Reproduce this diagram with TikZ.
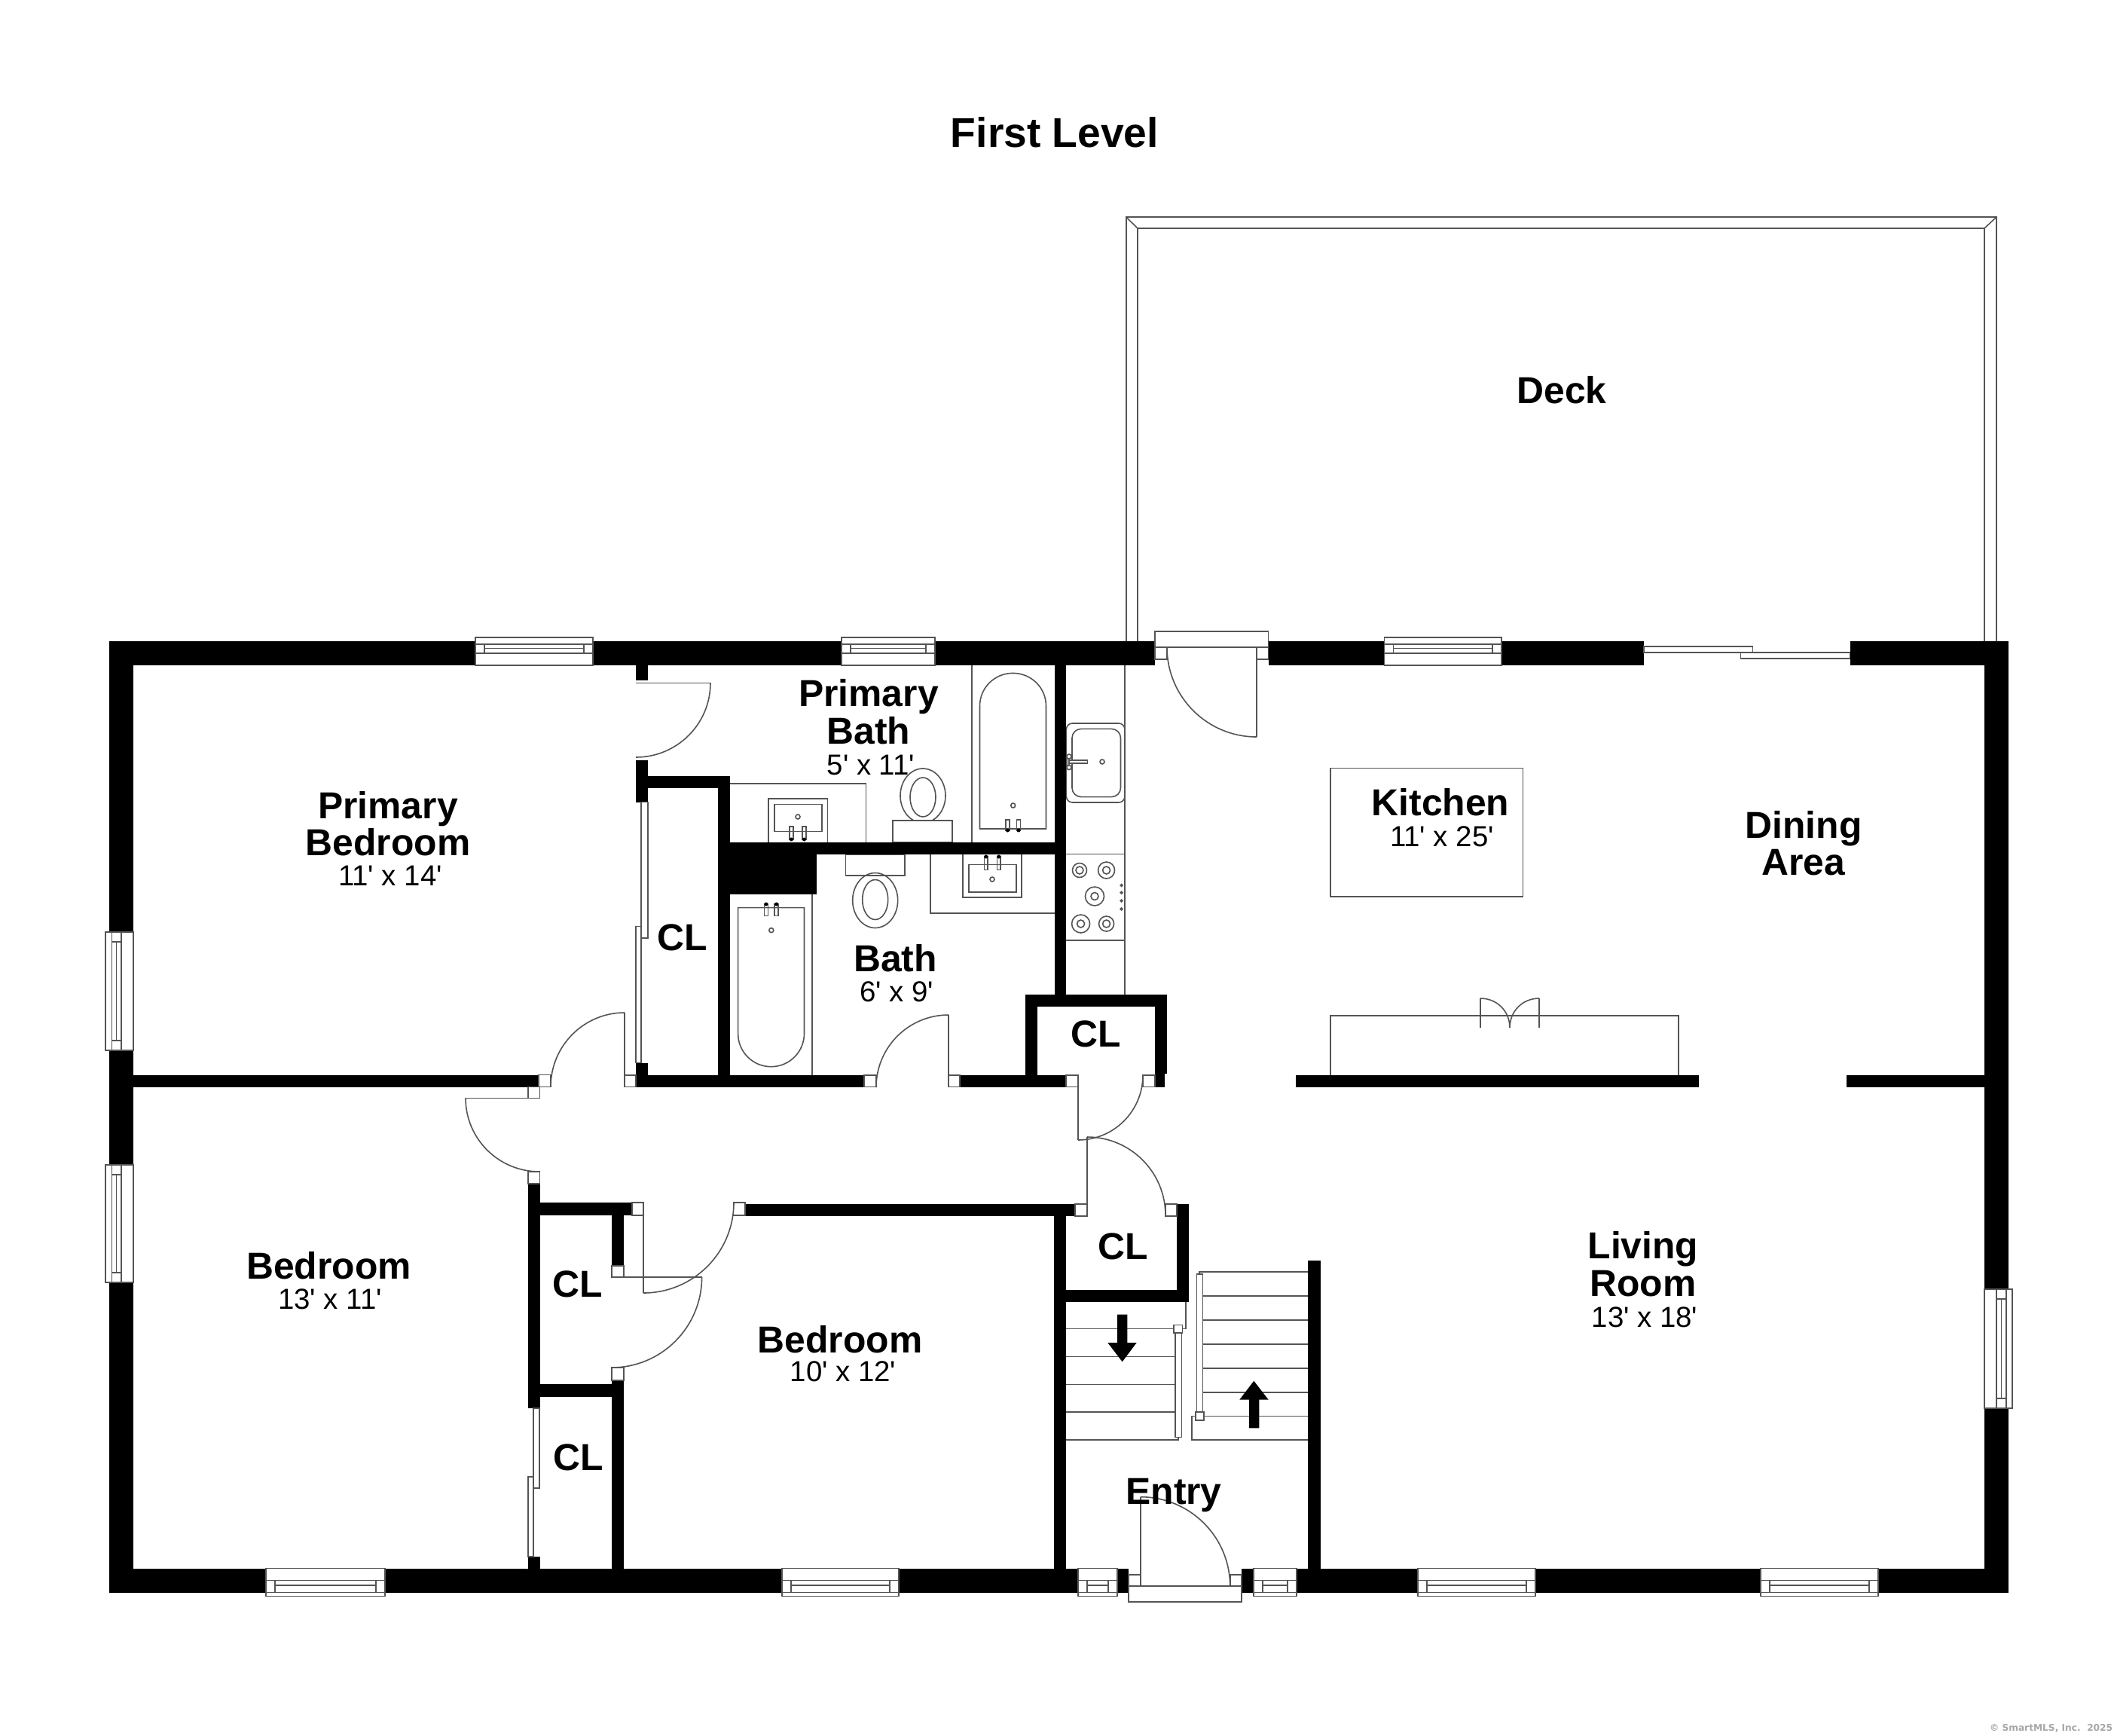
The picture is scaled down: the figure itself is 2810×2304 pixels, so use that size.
\documentclass[tikz,border=0pt]{standalone}
\usepackage{fontspec}
\usetikzlibrary{calc}
\setmainfont{Liberation Sans}[Ligatures=TeXOff]
\newfontfamily\crfont{DejaVu Sans}
\definecolor{lncol}{gray}{0.33}
\tikzset{
 ln/.style={draw=lncol,line width=0.4pt},
 roomlab/.style={anchor=base,inner sep=0pt,text=black,font=\fontsize{12.45}{14}\selectfont\bfseries},
 dimlab/.style={anchor=base,inner sep=0pt,text=black,font=\fontsize{9.6}{11}\selectfont},
 titlelab/.style={anchor=base,inner sep=0pt,text=black,font=\fontsize{13.8}{16}\selectfont\bfseries},
 crlab/.style={anchor=base east,inner sep=0pt,text=black!35,font=\fontsize{3.05}{4}\selectfont\crfont\bfseries}
}
\newcommand\wl[4]{\fill[black] (#1,#2) rectangle (#3,#4);}
\newcommand\op[4]{\fill[white] (#1,#2) rectangle (#3,#4);}
\newcommand\jb[4]{\filldraw[ln,fill=white] (#1,#2) rectangle (#3,#4);}
\newcommand\qarc[6]{\draw[ln] (#1,#2) .. controls ($(#1,#2)+0.5523*(#3,#4)-0.5523*(#5,#6)$) and ($(#3,#4)+0.5523*(#1,#2)-0.5523*(#5,#6)$) .. (#3,#4);}
% horizontal window: x1 x2 y0 s a
\newcommand\winH[5]{%
 \filldraw[ln,fill=white] (#1,{#3-5*#4}) rectangle (#2,{#3+32*#4});
 \draw[ln] (#1,{#3+#5*#4}) -- (#2,{#3+#5*#4});
 \draw[ln] (#1,{#3+16*#4}) -- (#2,{#3+16*#4});
 \draw[ln] ({#1+12},{#3+#5*#4}) rectangle ({#2-12},{#3+16*#4});
 \draw[ln] ({#1+12},{#3+9.5*#4}) -- ({#2-12},{#3+9.5*#4});}
% vertical window: y1 y2 x0 s a
\newcommand\winV[5]{%
 \filldraw[ln,fill=white] ({#3-5*#4},#1) rectangle ({#3+32*#4},#2);
 \draw[ln] ({#3+#5*#4},#1) -- ({#3+#5*#4},#2);
 \draw[ln] ({#3+16*#4},#1) -- ({#3+16*#4},#2);
 \draw[ln] ({#3+#5*#4},{#1+13}) rectangle ({#3+16*#4},{#2-13});
 \draw[ln] ({#3+9.5*#4},{#1+13}) -- ({#3+9.5*#4},{#2-13});}
% tap: x1 x2 y1 y2 ydot
\newcommand\tap[5]{\draw[ln] (#1,#3) rectangle (#2,#4); \fill[black] ({(#1+#2)/2},#5) circle[radius=2.5];}
\newcommand\drn[2]{\draw[ln] (#1,#2) circle[radius=3];}
\newcommand\burn[3]{\draw[ln] (#1,#2) circle[radius=#3]; \draw[ln] (#1,#2) circle[radius=5];}
\begin{document}
\begin{tikzpicture}[x=0.25pt,y=-0.25pt]
\useasboundingbox (0,0) rectangle (2810,2304);
\fill[white] (0,0) rectangle (2810,2304);
% deck
\draw[ln] (1494.7,851) -- (1494.7,288) -- (2650,288) -- (2650,851);
\draw[ln] (1510,851) -- (1510,303) -- (2634,303) -- (2634,851);
\draw[ln] (1494.7,288) -- (1510,303);
\draw[ln] (2650,288) -- (2634,303);
% kitchen counter and appliances
\draw[ln] (1493,882) -- (1493,1320);
\draw[ln,rounded corners=2] (1415.4,960) rectangle (1493,1065);
\draw[ln,rounded corners=3] (1423,967.4) rectangle (1487.5,1057.6);
\draw[ln,fill=white] (1419,1009) rectangle (1443.6,1013);
\draw[ln] (1416.5,1003) rectangle (1419,1019);
\draw[ln,fill=white] (1419,1004) circle[radius=3];
\draw[ln,fill=white] (1419,1018.6) circle[radius=3];
\drn{1463}{1011}
\draw[ln] (1415,1133.5) -- (1493,1133.5);
\draw[ln] (1415,1248) -- (1493,1248);
\burn{1433}{1155}{9.5}
\burn{1468.6}{1155}{11}
\burn{1453}{1189.5}{12.5}
\burn{1434.6}{1226}{12}
\burn{1468.6}{1226}{10}
\draw[ln] (1488.6,1175) circle[radius=1.4];
\draw[ln] (1488.6,1184.7) circle[radius=1.4];
\draw[ln] (1488.6,1195.5) circle[radius=1.4];
\draw[ln] (1488.6,1206.4) circle[radius=1.4];
% island and bar
\draw[ln] (1766,1019.5) rectangle (2021.6,1190);
\draw[ln] (1766,1428) -- (1766,1348) -- (2228,1348) -- (2228,1428);
\draw[ln] (1965,1364) -- (1965,1325);
\draw[ln] (2043,1364) -- (2043,1325);
\draw[ln] (1965,1325) .. controls (1987,1325) and (2004,1342) .. (2004,1364);
\draw[ln] (2043,1325) .. controls (2021,1325) and (2004,1342) .. (2004,1364);
% primary bath fixtures
\draw[ln] (1290,882) -- (1290,1118);
\draw[ln] (1300.5,1100) -- (1300.5,937) .. controls (1300.5,912.7) and (1320.2,893.4) .. (1344.5,893.4) .. controls (1368.8,893.4) and (1388.5,912.7) .. (1388.5,937) -- (1388.5,1100) -- cycle;
\tap{1335}{1340}{1088}{1102}{1102}
\tap{1349.6}{1354.5}{1088}{1102}{1102}
\drn{1344.7}{1069}
\draw[ln] (969,1039.7) -- (1149.6,1039.7) -- (1149.6,1118);
\draw[ln] (1019.7,1118) -- (1019.7,1060) -- (1098.3,1060) -- (1098.3,1118);
\draw[ln] (1027.8,1067.4) rectangle (1090.7,1103.3);
\drn{1059}{1084}
\tap{1048}{1052.8}{1097}{1114}{1114}
\tap{1065}{1070}{1097}{1114}{1114}
\draw[ln] (1225,1056) ellipse[x radius=30,y radius=36];
\draw[ln] (1225,1058) ellipse[x radius=17,y radius=26];
\filldraw[ln,fill=white] (1185,1089) rectangle (1264,1118);
% bath fixtures
\filldraw[ln,fill=white] (1122.4,1134) rectangle (1201,1162);
\draw[ln] (1161.7,1195) ellipse[x radius=30,y radius=36.5];
\draw[ln] (1161.7,1194) ellipse[x radius=17,y radius=26.5];
\draw[ln] (1235,1134) -- (1235,1211.7) -- (1399.6,1211.7);
\draw[ln] (1278,1134) -- (1278,1191) -- (1356,1191) -- (1356,1134);
\draw[ln] (1285.8,1147.6) rectangle (1348.8,1184);
\drn{1317}{1167}
\tap{1306.3}{1311.2}{1137}{1154.4}{1137}
\tap{1323.3}{1328.2}{1137}{1154.4}{1137}
\draw[ln] (1078,1187) -- (1078,1427);
\draw[ln] (979.6,1204.6) -- (979.6,1371.7) .. controls (979.6,1396) and (999.2,1415.7) .. (1023.5,1415.7) .. controls (1047.8,1415.7) and (1067.5,1396) .. (1067.5,1371.7) -- (1067.5,1204.6) -- cycle;
\tap{1014.4}{1019.3}{1200}{1215.6}{1200}
\tap{1028.2}{1033}{1200}{1215.6}{1200}
\drn{1023.8}{1234.6}
% stairs
\foreach \yy in {1763.3,1800.3,1837.3,1874} {\draw[ln] (1415,\yy) -- (1560,\yy);}
\draw[ln] (1415,1911) -- (1564,1911) -- (1564,1907);
\draw[ln] (1574,1727) -- (1574,1763.3) -- (1569,1763.3);
\draw[ln] (1592,1691) -- (1592,1688) -- (1736,1688);
\foreach \yy in {1720,1751.7,1783.7,1815.7,1847.7} {\draw[ln] (1596.3,\yy) -- (1736,\yy);}
\draw[ln] (1736,1879.3) -- (1581.7,1879.3) -- (1581.7,1911) -- (1736,1911);
\filldraw[ln,fill=white] (1560,1766.7) rectangle (1568.3,1907.3);
\filldraw[ln,fill=white] (1558,1758.3) rectangle (1569.3,1768.7);
\filldraw[ln,fill=white] (1588.3,1691) rectangle (1596.3,1875);
\filldraw[ln,fill=white] (1586.7,1874) rectangle (1597.7,1884.7);
\fill[black] (1483,1744.7) -- (1496.3,1744.7) -- (1496.3,1782) -- (1508.7,1782) -- (1489.7,1807.3) -- (1470.3,1782) -- (1483,1782) -- cycle;
\fill[black] (1658,1895.3) -- (1671.3,1895.3) -- (1671.3,1857.7) -- (1683.7,1857.7) -- (1664.3,1832.7) -- (1645.3,1857.7) -- (1658,1857.7) -- cycle;
% outer walls
\wl{145}{851}{2666}{882.5}
\wl{145}{851}{177}{2114}
\wl{2634}{851}{2666}{2114}
\wl{145}{2082}{2666}{2114}
% partitions
\wl{177}{1426.5}{715}{1442.5}
\wl{701}{1442.5}{716.3}{1457.4}
\wl{701}{1571}{717}{1869}
\wl{716}{1596}{839}{1613}
\wl{812}{1613}{827.7}{1680}
\wl{716}{1837}{812}{1854}
\wl{811.7}{1829}{827.7}{2082}
\wl{700.7}{2066}{717}{2082}
\wl{989}{1598}{1427}{1614}
\wl{1399}{1614}{1415}{2082}
\wl{1415}{1712}{1578}{1727.5}
\wl{1562}{1598}{1578}{1728}
\wl{1736.3}{1672.7}{1752.7}{2082}
% closet and baths
\wl{844}{882}{860}{903}
\wl{844}{1009}{860}{1064.6}
\wl{860}{1030}{969}{1046}
\wl{953}{1030}{969}{1427}
\wl{953}{1118}{1415}{1134}
\wl{953}{1118}{1083.6}{1187}
\wl{1399.6}{882}{1415}{1320}
\wl{844}{1427}{1147}{1442.6}
\wl{844}{1410.6}{860}{1427}
\wl{1274}{1427}{1415}{1442.6}
\wl{1361}{1320}{1549}{1336}
\wl{1361}{1336}{1377}{1427}
\wl{1533}{1336}{1549}{1425}
\wl{1533}{1425}{1546}{1442.5}
% kitchen partitions
\wl{1720}{1427}{2255}{1443}
\wl{2451}{1427}{2634}{1443}
% openings
\op{1533}{851}{1684}{882.5}
\op{2182}{851}{2455.5}{882.5}
\op{1498}{2082}{1648}{2114}
% sliding door deck
\filldraw[ln,fill=white] (2182,858) rectangle (2326.6,866);
\filldraw[ln,fill=white] (2310.5,866) rectangle (2455.5,874);
% deck door
\filldraw[ln,fill=white] (1533,838) rectangle (1683.6,859);
\jb{1533}{859}{1549}{875}
\jb{1668}{859}{1683.6}{875}
\draw[ln] (1668,859) -- (1668,978);
\qarc{1668}{978}{1549}{859}{1668}{859}
% entry door
\filldraw[ln,fill=white] (1498,2105) rectangle (1648,2126);
\jb{1498}{2089.7}{1513.7}{2105}
\jb{1632.7}{2089.7}{1648}{2105}
\draw[ln] (1513.7,2105) -- (1513.7,1986.7);
\qarc{1513.7}{1986.7}{1632.7}{2105}{1513.7}{2105}
% primary bath door
\draw[ln] (844,906.4) -- (943,906.4);
\qarc{943}{906.4}{844}{1005}{844}{906.4}
% primary closet sliders
\filldraw[ln,fill=white] (851,1064.6) rectangle (860,1245);
\filldraw[ln,fill=white] (844,1229.5) rectangle (851,1410.6);
% primary bedroom door
\jb{715}{1426.5}{731}{1442.5}
\jb{829}{1427}{844}{1442.6}
\draw[ln] (829,1427) -- (829,1344);
\qarc{829}{1344}{731}{1442.5}{829}{1442.5}
% bedroom door
\jb{701}{1442.5}{716.3}{1457.4}
\jb{701}{1555}{716.3}{1571}
\draw[ln] (618,1457.4) -- (716,1457.4);
\qarc{618}{1457.4}{716}{1555}{716}{1457.4}
% bath door
\jb{1147}{1427}{1163}{1442.6}
\jb{1259}{1427}{1274}{1442.6}
\draw[ln] (1259,1427) -- (1259,1347);
\qarc{1259}{1347}{1163}{1443}{1259}{1443}
% kitchen closet door
\jb{1415}{1426.7}{1431}{1442.3}
\jb{1517}{1427}{1533}{1442.3}
\draw[ln] (1431,1442) -- (1431,1513);
\qarc{1431}{1513}{1517}{1427}{1431}{1427}
% hall closet door
\jb{1427}{1597.7}{1443}{1613.7}
\jb{1547}{1598}{1562}{1614}
\draw[ln] (1443,1597.7) -- (1443,1509);
\qarc{1443}{1509}{1547}{1613}{1443}{1613}
% bedroom 2 door
\jb{973.5}{1596}{989}{1613}
\qarc{854}{1716}{974}{1596}{854}{1596}
\draw[ln] (854,1613) -- (854,1716);
\wl{716}{1596}{839}{1613}
\jb{839}{1596}{854}{1613}
% bedroom closet door
\jb{812}{1680}{827.7}{1695}
\jb{812}{1815}{827.7}{1832}
\draw[ln] (812,1695) -- (931.6,1695);
\qarc{931.6}{1695}{812}{1815}{812}{1695}
% small closet slider
\filldraw[ln,fill=white] (708,1869) rectangle (716,1975);
\filldraw[ln,fill=white] (700.7,1960) rectangle (708,2066);
% windows
\winH{631}{787}{851}{1}{3.7}
\winH{1117}{1241}{851}{1}{3.7}
\winH{1837.5}{1993}{851}{1}{3.7}
\winH{353}{511}{2113.5}{-1}{0}
\winH{1038}{1193}{2113.5}{-1}{0}
\winH{1431}{1483}{2113.5}{-1}{0}
\winH{1664}{1721}{2113.5}{-1}{0}
\winH{1882}{2038}{2113.5}{-1}{0}
\winH{2337}{2493}{2113.5}{-1}{0}
\winV{1237}{1394}{145}{1}{3.3}
\winV{1546}{1702}{145}{1}{3.3}
\winV{1711}{1869}{2666}{-1}{3.3}
% labels
\node[titlelab] (title) at (1400,195.5) {First Level};
\node[roomlab] (deck) at (2073,535) {Deck};
\node[roomlab] (pb1) at (515,1086) {Primary};
\node[roomlab] (pb2) at (515,1135) {Bedroom};
\node[dimlab] (pb3) at (518,1175) {11' x 14'};
\node[roomlab] (pa1) at (1153,937) {Primary};
\node[roomlab] (pa2) at (1153,987) {Bath};
\node[dimlab] (pa3) at (1156,1028) {5' x 11'};
\node[roomlab] (kit1) at (1912,1082) {Kitchen};
\node[dimlab] (kit2) at (1914,1123) {11' x 25'};
\node[roomlab] (din1) at (2394,1112) {Dining};
\node[roomlab] (din2) at (2394,1161) {Area};
\node[roomlab] (cl1) at (906,1261) {CL};
\node[roomlab] (bt1) at (1188.5,1289) {Bath};
\node[dimlab] (bt2) at (1190,1329.5) {6' x 9'};
\node[roomlab] (cl2) at (1455,1389) {CL};
\node[roomlab] (cl3) at (1490.7,1671) {CL};
\node[roomlab] (cl4) at (767,1721) {CL};
\node[roomlab] (cl5) at (768,1951.7) {CL};
\node[roomlab] (bd1) at (436.5,1697) {Bedroom};
\node[dimlab] (bd2) at (438,1737) {13' x 11'};
\node[roomlab] (be1) at (1115,1795.5) {Bedroom};
\node[dimlab] (be2) at (1119,1833) {10' x 12'};
\node[roomlab] (ent) at (1558,1996.7) {Entry};
\node[roomlab] (liv1) at (2181,1670.5) {Living};
\node[roomlab] (liv2) at (2181,1720.5) {Room};
\node[dimlab] (liv3) at (2183,1761) {13' x 18'};
\node[crlab] (copy) at (2805,2297) {© SmartMLS, Inc.\ \ 2025};
\end{tikzpicture}
\end{document}
